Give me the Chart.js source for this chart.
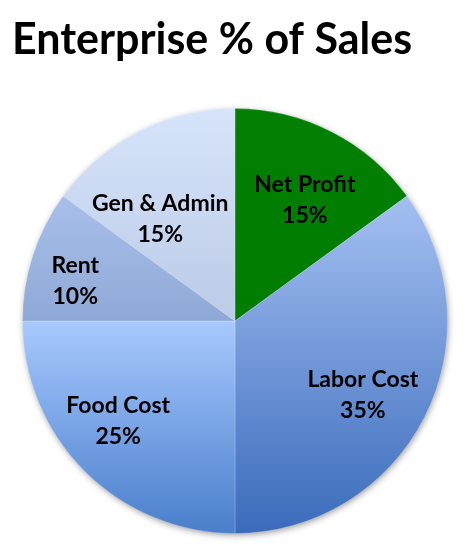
<!DOCTYPE html>
<html><head><meta charset="utf-8">
<script src="https://cdn.jsdelivr.net/npm/chart.js@4/dist/chart.umd.min.js"></script>
<style>html,body{margin:0;padding:0;background:#fff}#wrap{width:465px;height:550px;position:relative}</style>
</head><body><div id="wrap"><canvas id="c"></canvas></div>
<script>
const chartTitle = 'Enterprise % of Sales';
const categories = ['Net Profit', 'Labor Cost', 'Food Cost', 'Rent', 'Gen & Admin'];
const percents = [15, 35, 25, 10, 15];
const topColors = ['#038003', '#a4c0f2', '#a7c9ff', '#a8bfea', '#d6e4fb'];
const bottomColors = ['#007c00', '#3a6bbb', '#4a7ecb', '#8fa9d6', '#bccbe6'];

// label placement along each slice: [fraction of radius, fraction of slice angle]
const labelPlacement = [[0.657, 0.556], [0.695, 0.524], [0.723, 0.55], [0.775, 0.39], [0.596, 0.33]];

const FONT = 'Lato, "DejaVu Sans", sans-serif';
const mctx = document.createElement('canvas').getContext('2d');
mctx.font = 'bold 100px ' + FONT;
const titleSize = Math.round(100 * 398 / mctx.measureText(chartTitle).width);
const labelSize = Math.round(100 * 112 / mctx.measureText('Labor Cost').width);

function sliceYRange(chart, i) {
  const a = chart.chartArea;
  const cx = (a.left + a.right) / 2, cy = (a.top + a.bottom) / 2;
  const r = Math.min(a.right - a.left, a.bottom - a.top) / 2;
  const total = percents.reduce((s, v) => s + v, 0);
  let acc = 0; for (let k = 0; k < i; k++) acc += percents[k];
  const s = -Math.PI / 2 + acc / total * 2 * Math.PI;
  const e = s + percents[i] / total * 2 * Math.PI;
  const ys = [cy, cy + r * Math.sin(s), cy + r * Math.sin(e)];
  for (const ang of [-Math.PI / 2, Math.PI / 2, 3 * Math.PI / 2]) if (ang > s && ang < e) ys.push(cy + r * Math.sin(ang));
  return [Math.min(...ys), Math.max(...ys)];
}

const shadowPlugin = {
  id: 'pieShadow',
  beforeDatasetsDraw(chart) {
    const el = chart.getDatasetMeta(0).data[0];
    if (!el) return;
    const ctx = chart.ctx;
    ctx.save();
    ctx.shadowColor = 'rgba(0,0,0,0.45)';
    ctx.shadowBlur = 7;
    ctx.shadowOffsetX = 1;
    ctx.shadowOffsetY = 2;
    ctx.fillStyle = '#9ab';
    ctx.beginPath();
    ctx.arc(el.x, el.y, el.outerRadius - 1, 0, Math.PI * 2);
    ctx.fill();
    ctx.restore();
  }
};

const labelPlugin = {
  id: 'sliceLabels',
  afterDatasetsDraw(chart) {
    const ctx = chart.ctx;
    const meta = chart.getDatasetMeta(0);
    ctx.save();
    ctx.font = 'bold ' + labelSize + 'px ' + FONT;
    ctx.fillStyle = '#000';
    ctx.textAlign = 'center';
    ctx.textBaseline = 'middle';
    meta.data.forEach((el, i) => {
      const [rf, af] = labelPlacement[i];
      const ang = el.startAngle + (el.endAngle - el.startAngle) * af;
      const r = el.outerRadius * rf;
      const x = el.x + r * Math.cos(ang), y = el.y + r * Math.sin(ang);
      ctx.fillText(categories[i], x, y - 15.5);
      ctx.fillText(percents[i] + '%', x, y + 15.5);
    });
    ctx.restore();
  }
};

new Chart(document.getElementById('c'), {
  type: 'pie',
  data: {
    labels: categories,
    datasets: [{
      data: percents,
      backgroundColor(c) {
        const chart = c.chart;
        if (!chart.chartArea) return topColors[c.dataIndex];
        const [y0, y1] = sliceYRange(chart, c.dataIndex);
        const g = chart.ctx.createLinearGradient(0, y0, 0, y1);
        g.addColorStop(0, topColors[c.dataIndex]);
        g.addColorStop(1, bottomColors[c.dataIndex]);
        return g;
      },
      borderColor: 'rgba(255,255,255,0.2)',
      borderWidth: 1
    }]
  },
  options: {
    responsive: true,
    maintainAspectRatio: false,
    animation: false,
    layout: { padding: { left: 12, right: 7, bottom: 16, top: 0 } },
    plugins: {
      legend: { display: false },
      tooltip: { enabled: false },
      title: {
        display: true,
        text: chartTitle,
        align: 'start',
        color: '#000',
        font: { family: FONT, size: titleSize, weight: 'bold', lineHeight: 1.2 },
        padding: { top: 14, bottom: 108 - 14 - titleSize * 1.2 }
      }
    }
  },
  plugins: [shadowPlugin, labelPlugin]
});
</script></body></html>
